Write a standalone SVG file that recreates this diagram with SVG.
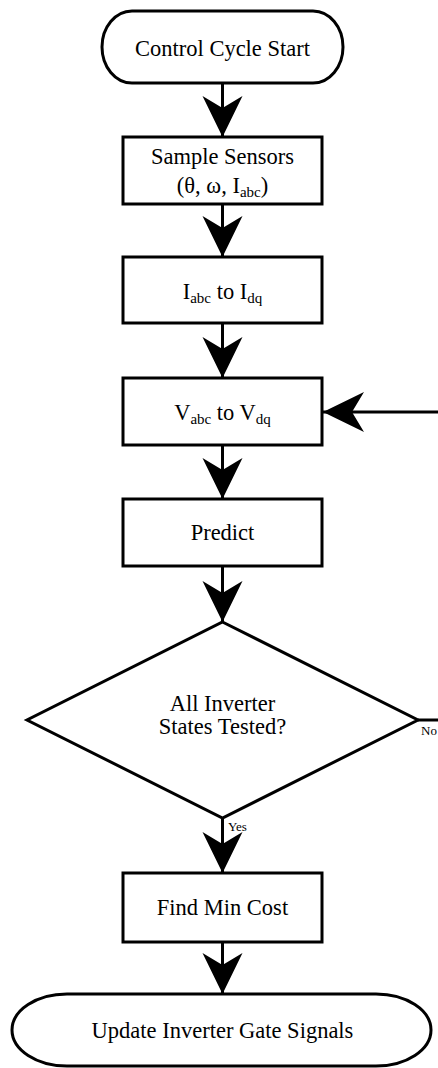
<svg xmlns="http://www.w3.org/2000/svg" width="438" height="1068" viewBox="0 0 438 1068">
  <style>
    .shape { fill: #ffffff; stroke: #000000; stroke-width: 3; }
    .wire { fill: none; stroke: #000000; stroke-width: 3; }
    .label { font-family: "Liberation Serif", "Times New Roman", serif; font-size: 22.5px; fill: #000000; text-anchor: middle; }
    .sub { font-size: 15px; }
    .tag { font-family: "Liberation Serif", "Times New Roman", serif; font-size: 13px; fill: #000000; }
  </style>
  <defs>
    <marker id="head" markerUnits="userSpaceOnUse" viewBox="-44 -22 46 44" markerWidth="46" markerHeight="44" refX="0" refY="0" orient="auto" overflow="visible">
      <path d="M0,0 L-41,-20 L-29,0 L-41,20 Z" fill="#000000"/>
    </marker>
  </defs>

  <g id="connectors">
    <line class="wire" x1="222.5" y1="83" x2="222.5" y2="137" marker-end="url(#head)"/>
    <line class="wire" x1="222.5" y1="204" x2="222.5" y2="257" marker-end="url(#head)"/>
    <line class="wire" x1="222.5" y1="323" x2="222.5" y2="378" marker-end="url(#head)"/>
    <line class="wire" x1="222.5" y1="445" x2="222.5" y2="499" marker-end="url(#head)"/>
    <line class="wire" x1="222.5" y1="566" x2="222.5" y2="622" marker-end="url(#head)"/>
    <line class="wire" x1="222.5" y1="818" x2="222.5" y2="873" marker-end="url(#head)"/>
    <line class="wire" x1="222.5" y1="942" x2="222.5" y2="994" marker-end="url(#head)"/>
    <line class="wire" x1="418" y1="720" x2="440" y2="720"/>
    <line class="wire" x1="440" y1="412" x2="323" y2="412" marker-end="url(#head)"/>
    <text class="tag" x="421" y="735">No</text>
    <text class="tag" x="228" y="831">Yes</text>
  </g>

  <g id="start">
    <rect class="shape" x="102" y="11" width="241" height="72" rx="30" ry="36"/>
    <text class="label" x="222.5" y="56">Control Cycle Start</text>
  </g>

  <g id="sample">
    <rect class="shape" x="123" y="137" width="199" height="67"/>
    <text class="label" x="222.5" y="164">Sample Sensors</text>
    <text class="label" x="222.5" y="193">(θ, ω, I<tspan class="sub" dy="4">abc</tspan><tspan dy="-4">)</tspan></text>
  </g>

  <g id="iabc-to-idq">
    <rect class="shape" x="123" y="257" width="199" height="66"/>
    <text class="label" x="222.5" y="299">I<tspan class="sub" dy="4">abc</tspan><tspan dy="-4"> to I</tspan><tspan class="sub" dy="4">dq</tspan></text>
  </g>

  <g id="vabc-to-vdq">
    <rect class="shape" x="123" y="378" width="199" height="67"/>
    <text class="label" x="222.5" y="420">V<tspan class="sub" dy="4">abc</tspan><tspan dy="-4"> to V</tspan><tspan class="sub" dy="4">dq</tspan></text>
  </g>

  <g id="predict">
    <rect class="shape" x="123" y="499" width="199" height="67"/>
    <text class="label" x="222.5" y="540">Predict</text>
  </g>

  <g id="all-states-tested">
    <polygon class="shape" points="222.5,622 418,720 222.5,818 27,720"/>
    <text class="label" x="222.5" y="711">All Inverter</text>
    <text class="label" x="222.5" y="734">States Tested?</text>
  </g>

  <g id="find-min-cost">
    <rect class="shape" x="123" y="873" width="199" height="69"/>
    <text class="label" x="222.5" y="915">Find Min Cost</text>
  </g>

  <g id="update-gates">
    <rect class="shape" x="12" y="994" width="419" height="72" rx="55" ry="36"/>
    <text class="label" x="222.5" y="1038">Update Inverter Gate Signals</text>
  </g>
</svg>
